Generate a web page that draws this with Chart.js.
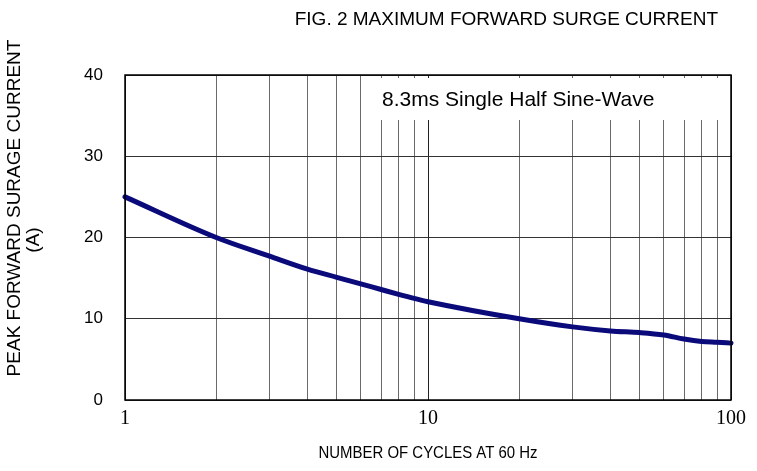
<!DOCTYPE html>
<html>
<head>
<meta charset="utf-8">
<script src="https://cdn.jsdelivr.net/npm/chart.js@4/dist/chart.umd.min.js"></script>
<style>
html,body{margin:0;padding:0;background:#fff;}
#wrap{width:757px;height:471px;position:relative;}
</style>
</head>
<body>
<div id="wrap"><canvas id="c" width="757" height="471"></canvas></div>
<script>
const cycles = [1, 2, 3, 4, 5, 6, 7, 8, 9, 10, 20, 30, 40, 50, 60, 70, 80, 90, 100];
const surgeCurrent = [25, 20, 17.7, 16.1, 15.1, 14.3, 13.6, 13.0, 12.5, 12.1, 10.0, 9.0, 8.5, 8.3, 8.0, 7.5, 7.2, 7.1, 7.0];
const xTickValues = [1,2,3,4,5,6,7,8,9,10,20,30,40,50,60,70,80,90,100];
const xLabelValues = [1, 10, 100];
const yTickValues = [0, 10, 20, 30, 40];
const chartTitle = 'FIG. 2 MAXIMUM FORWARD SURGE CURRENT';
const yTitleLines = ['PEAK FORWARD SURAGE CURRENT', '(A)'];
const xTitle = 'NUMBER OF CYCLES AT 60 Hz';
const noteText = '8.3ms Single Half Sine-Wave';

const sans = '"Liberation Sans", Arial, sans-serif';
const serif = '"Liberation Serif", "Times New Roman", serif';

const textPlugin = {
  id: 'texts',
  beforeDatasetsDraw(chart) {
    const {ctx, chartArea: a} = chart;
    ctx.save();
    ctx.fillStyle = '#fff';
    ctx.fillRect(a.left + 251, a.top + 3, a.right - a.left - 254, 42);
    ctx.fillStyle = '#000';
    ctx.font = '21px ' + sans;
    ctx.textBaseline = 'middle';
    ctx.textAlign = 'left';
    ctx.fillText(noteText, a.left + 257, a.top + 25);
    ctx.restore();
  },
  afterDraw(chart) {
    const {ctx, chartArea: a} = chart;
    ctx.save();
    ctx.fillStyle = '#000';
    ctx.font = '19px ' + sans;
    ctx.textBaseline = 'middle';
    ctx.textAlign = 'right';
    ctx.fillText(chartTitle, a.right - 13, 20);
    // x title, slightly condensed
    ctx.save();
    ctx.font = '17px ' + sans;
    ctx.textAlign = 'center';
    ctx.translate((a.left + a.right) / 2, 453);
    ctx.scale(0.88, 1);
    ctx.fillText(xTitle, 0, 0);
    ctx.restore();
    ctx.font = '19px ' + sans;
    ctx.textAlign = 'center';
    ctx.save();
    ctx.translate(15, 208);
    ctx.rotate(-Math.PI / 2);
    ctx.fillText(yTitleLines[0], 0, 0);
    ctx.restore();
    ctx.save();
    ctx.translate(34, 240);
    ctx.rotate(-Math.PI / 2);
    ctx.fillText(yTitleLines[1], 0, 0);
    ctx.restore();
    ctx.strokeStyle = '#000';
    ctx.lineWidth = 1.5;
    ctx.strokeRect(a.left, a.top, a.right - a.left, a.bottom - a.top);
    ctx.restore();
  }
};

new Chart(document.getElementById('c'), {
  type: 'line',
  data: {
    datasets: [{
      data: cycles.map((x, i) => ({x: x, y: surgeCurrent[i]})),
      borderColor: '#0a0a7a',
      borderWidth: 5,
      pointRadius: 0,
      cubicInterpolationMode: 'monotone',
      fill: false,
      borderCapStyle: 'round',
      clip: false
    }]
  },
  options: {
    responsive: false,
    animation: false,
    devicePixelRatio: 1,
    layout: {padding: {left: 0, right: 26, top: 75, bottom: 0}},
    plugins: {legend: {display: false}, tooltip: {enabled: false}, title: {display: false}},
    scales: {
      x: {
        type: 'logarithmic',
        min: 1, max: 100,
        afterBuildTicks(s) { s.ticks = xTickValues.map(v => ({value: v})); },
        afterFit(s) { s.height = 71; },
        ticks: {
          autoSkip: false, maxRotation: 0,
          color: '#000',
          font: {family: serif, size: 20},
          padding: 7,
          callback: v => xLabelValues.includes(v) ? String(v) : ''
        },
        grid: {
          color: ctx => (ctx.tick && xLabelValues.includes(ctx.tick.value)) ? '#222' : '#6a6a6a',
          lineWidth: 1,
          drawTicks: false
        },
        border: {display: false}
      },
      y: {
        min: 0, max: 40,
        afterBuildTicks(s) { s.ticks = yTickValues.map(v => ({value: v})); },
        afterFit(s) { s.width = 125; },
        ticks: {
          color: '#000',
          font: {family: sans, size: 17},
          padding: 22
        },
        grid: {color: '#333', lineWidth: 1, drawTicks: false},
        border: {display: false}
      }
    }
  },
  plugins: [textPlugin]
});
</script>
</body>
</html>
